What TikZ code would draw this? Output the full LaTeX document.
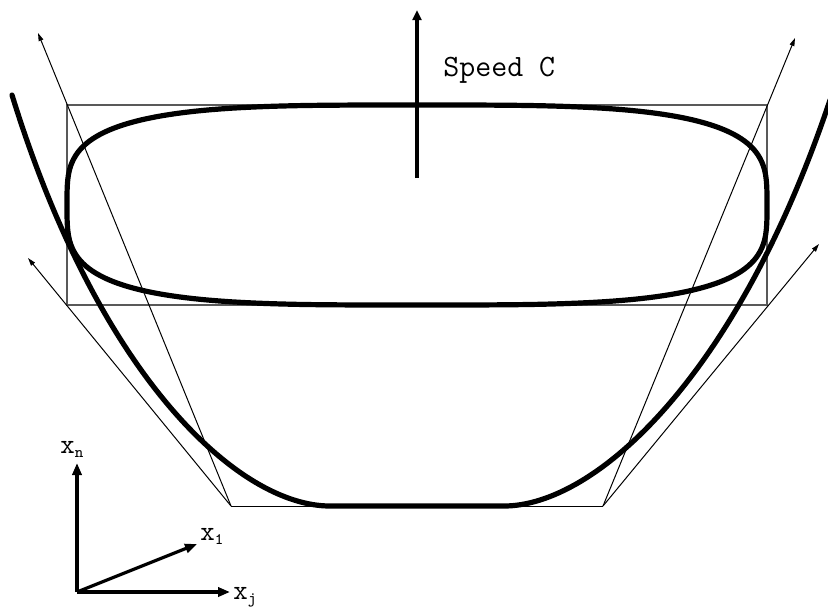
\documentclass[tikz,border=0pt]{standalone}
\usetikzlibrary{arrows.meta}
\tikzset{
  heavy/.style={line width=2.6pt,line cap=round},
  frame/.style={draw=black!65,line width=0.6pt},
  ray/.style={line width=0.5pt,-{Triangle[length=4pt,width=2.4pt]}},
  ax/.style={line width=1.6pt,-{Triangle[length=6pt,width=4.6pt]}},
  lbl/.style={inner sep=0pt,anchor=base west,font=\ttfamily\fontsize{14}{16}\selectfont},
}
\newcommand{\axsub}[1]{\raisebox{-2pt}{\fontsize{8}{9}\selectfont#1}}
\begin{document}
\begin{tikzpicture}[x=0.5pt,y=-0.5pt]
  \useasboundingbox (0,0) rectangle (828,606);
  % corners and tips
  \coordinate (bl) at (231,506);
  \coordinate (br) at (603,506);
  \coordinate (tl) at (38,33);
  \coordinate (tr) at (795,38);
  \coordinate (ll) at (28,258);
  \coordinate (rr) at (819,244);
  \draw[frame] (67,105) rectangle (767,305);
  \draw[line width=0.5pt] (bl) -- (br);
  \draw[ray] (bl) -- (tl);
  \draw[ray] (br) -- (tr);
  \draw[ray] (bl) -- (ll);
  \draw[ray] (br) -- (rr);
  % the two fronts
  \draw[heavy] plot[domain=1:361,samples=181,variable=\t]
    ({417+350*sign(cos(\t))*abs(cos(\t))^0.57},{205+100*sign(sin(\t))*abs(sin(\t))^0.57}) -- cycle;
  \coordinate (ul) at (12,95);
  \coordinate (ur) at (830,100);
  \draw[heavy] (ul) .. controls (100,380) and (240,506) .. (330,506)
    -- (504,506) .. controls (594,506) and (736,380) .. (ur);
  % speed
  \coordinate (s0) at (417,178);
  \coordinate (s1) at (417,10);
  \draw[line width=1.6pt,-{Triangle[length=5pt,width=4.4pt]}] (s0) -- (s1);
  \node[lbl,font=\ttfamily\fontsize{15.5}{17}\selectfont] (speed) at (443,76) {Speed C};
  % axes
  \coordinate (o) at (77,592);
  \coordinate (an) at (77,463);
  \coordinate (a1) at (197,544);
  \coordinate (aj) at (230,592);
  \draw[ax] (o) -- (an);
  \draw[ax] (o) -- (a1);
  \draw[ax] (o) -- (aj);
  \node[lbl] (xn) at (60,453) {x\axsub{n}};
  \node[lbl] (x1) at (200,540) {x\axsub{1}};
  \node[lbl] (xj) at (233,599) {x\axsub{j}};
\end{tikzpicture}
\end{document}
